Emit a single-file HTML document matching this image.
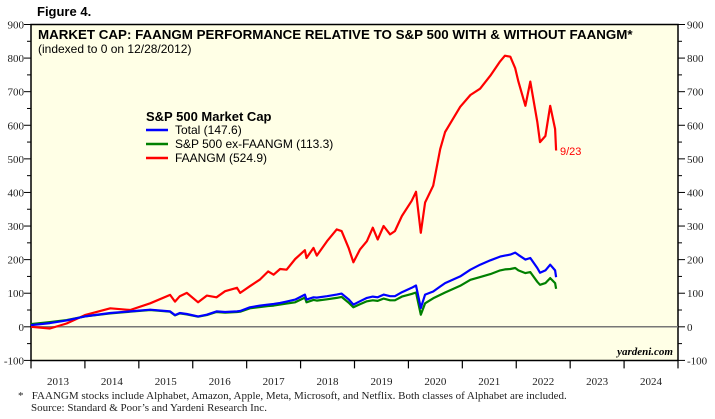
<!DOCTYPE html>
<html><head><meta charset="utf-8"><style>
body{margin:0;background:#fff;width:715px;height:419px;overflow:hidden}
svg{display:block}
.ax{font-family:"Liberation Serif",serif;font-size:11px;fill:#222}
.sans{font-family:"Liberation Sans",sans-serif}
</style></head><body>
<svg id="chart" width="715" height="419">
<text x="37" y="16" class="sans" font-size="13" font-weight="bold">Figure 4.</text>
<rect x="31" y="24.5" width="647" height="336" fill="#ffffe6" stroke="#000" stroke-width="1.5"/>
<g id="axes"></g>
<g id="series"></g>
<text x="38" y="39" class="sans" font-size="13.35" font-weight="bold">MARKET CAP: FAANGM PERFORMANCE RELATIVE TO S&amp;P 500 WITH &amp; WITHOUT FAANGM*</text>
<text x="38" y="53" class="sans" font-size="12">(indexed to 0 on 12/28/2012)</text>
<g>
<text x="146" y="121" class="sans" font-size="13" font-weight="bold">S&amp;P 500 Market Cap</text>
<line x1="146" y1="130" x2="168" y2="130" stroke="#0000ff" stroke-width="2.5"/>
<text x="175" y="134" class="sans" font-size="12">Total (147.6)</text>
<line x1="146" y1="144" x2="168" y2="144" stroke="#008000" stroke-width="2.5"/>
<text x="175" y="148" class="sans" font-size="12">S&amp;P 500 ex-FAANGM (113.3)</text>
<line x1="146" y1="158" x2="168" y2="158" stroke="#ff0000" stroke-width="2.5"/>
<text x="175" y="162" class="sans" font-size="12">FAANGM (524.9)</text>
</g>
<text x="560" y="155" class="sans" font-size="11" fill="#ff0000">9/23</text>
<text x="673" y="355" text-anchor="end" font-family="Liberation Serif,serif" font-size="11" font-style="italic" font-weight="bold">yardeni.com</text>
<text x="18" y="399" class="ax" font-size="10">*&#160;&#160; FAANGM stocks include Alphabet, Amazon, Apple, Meta, Microsoft, and Netflix. Both classes of Alphabet are included.</text>
<text x="31" y="411" class="ax" font-size="10">Source: Standard &amp; Poor’s and Yardeni Research Inc.</text>
</svg>
<script>
const yTicks=[-100,0,100,200,300,400,500,600,700,800,900];
const years=[2013,2014,2015,2016,2017,2018,2019,2020,2021,2022,2023,2024];
const dates=[2013.0,2013.35,2013.66,2014.0,2014.47,2014.84,2015.21,2015.58,2015.67,2015.76,2015.89,2016.10,2016.26,2016.44,2016.6,2016.82,2016.88,2017.06,2017.25,2017.40,2017.50,2017.62,2017.74,2017.90,2018.08,2018.11,2018.24,2018.30,2018.49,2018.67,2018.76,2018.89,2018.98,2019.10,2019.23,2019.34,2019.43,2019.54,2019.66,2019.75,2019.88,2020.06,2020.14,2020.23,2020.31,2020.46,2020.59,2020.68,2020.96,2021.15,2021.33,2021.52,2021.70,2021.79,2021.89,2021.98,2022.04,2022.17,2022.26,2022.39,2022.44,2022.54,2022.63,2022.72,2022.74];
const faangm=[0,-5,10,35,55,50,70,95,75,91,101,73,93,88,106,116,101,121,141,165,155,172,170,202,228,205,235,212,255,290,285,235,192,230,255,295,260,300,275,285,330,375,402,280,370,420,529,580,655,690,709,748,790,807,804,770,730,658,730,610,550,568,658,589,524.9];
const total=[5,11,19,31,41,46,51,46,35,41,38,31,36,46,44,46,47,58,63,66,68,71,75,81,96,81,88,87,91,96,99,82,66,76,86,90,88,96,91,91,103,116,123,56,96,105,120,130,150,170,185,198,209,212,215,221,214,200,205,175,161,168,185,168,147.6];
const exFaangm=[8,14,20,31,40,45,50,45,34,40,37,30,35,44,42,44,45,55,59,62,63,66,69,73,87,73,80,78,82,86,89,72,58,67,76,79,77,84,79,79,90,98,102,36,70,85,95,102,122,140,148,157,168,171,172,175,168,160,163,134,125,130,145,130,113.3];
const X0=31,X1=678,Y0=360.4,Y1=24.5;
function xS(t){return X0+(t-2013)/12*(X1-X0);}
function yS(v){return Y0-(v+100)/1000*(Y0-Y1);}
const NS="http://www.w3.org/2000/svg";
const axes=document.getElementById('axes');
function mk(tag,attrs,parent){const e=document.createElementNS(NS,tag);for(const k in attrs)e.setAttribute(k,attrs[k]);parent.appendChild(e);return e;}
yTicks.forEach(v=>{
  const y=yS(v);
  const l=mk('line',{x1:X0-7,x2:X0,y1:y,y2:y,stroke:'#000'},axes);
  
  
  const r=mk('line',{x1:X1,x2:X1+7,y1:y,y2:y,stroke:'#000'},axes);
  
  
  if(v<900){const ym=yS(v+50);
    const m1=mk('line',{x1:X0-4,x2:X0,y1:ym,y2:ym,stroke:'#000'},axes);
    
    
    const m2=mk('line',{x1:X1,x2:X1+4,y1:ym,y2:ym,stroke:'#000'},axes);
    
    }
  const t1=mk('text',{x:X0-7,y:y+4,'text-anchor':'end',class:'ax'},axes);t1.textContent=v;
  
  
  const t2=mk('text',{x:X1+9,y:y+4,class:'ax'},axes);t2.textContent=v;
  
  
});
const z=mk('line',{x1:X0,x2:X1,y1:yS(0),y2:yS(0),stroke:'#777','stroke-width':1.5},axes);


years.forEach((yr)=>{
  const x=xS(yr);
  const tk=mk('line',{x1:x,x2:x,y1:Y0,y2:Y0+8,stroke:'#000','stroke-width':1.2},axes);
  
  
  const t=mk('text',{x:xS(yr+0.5),y:385,'text-anchor':'middle',class:'ax'},axes);t.textContent=yr;
  
  
});
const xe=mk('line',{x1:X1,x2:X1,y1:Y0,y2:Y0+8,stroke:'#000','stroke-width':1.2},axes);


const sg=document.getElementById('series');
function line(vals,color,name){
  const p=mk('polyline',{points:dates.map((d,i)=>xS(d).toFixed(1)+','+yS(vals[i]).toFixed(1)).join(' '),fill:'none',stroke:color,'stroke-width':2.2,'stroke-linejoin':'round'},sg);
  
  
}
line(faangm,'#ff0000','faangm-line');
line(exFaangm,'#008000','ex-faangm-line');
line(total,'#0000ff','total-line');
</script>
</body></html>
